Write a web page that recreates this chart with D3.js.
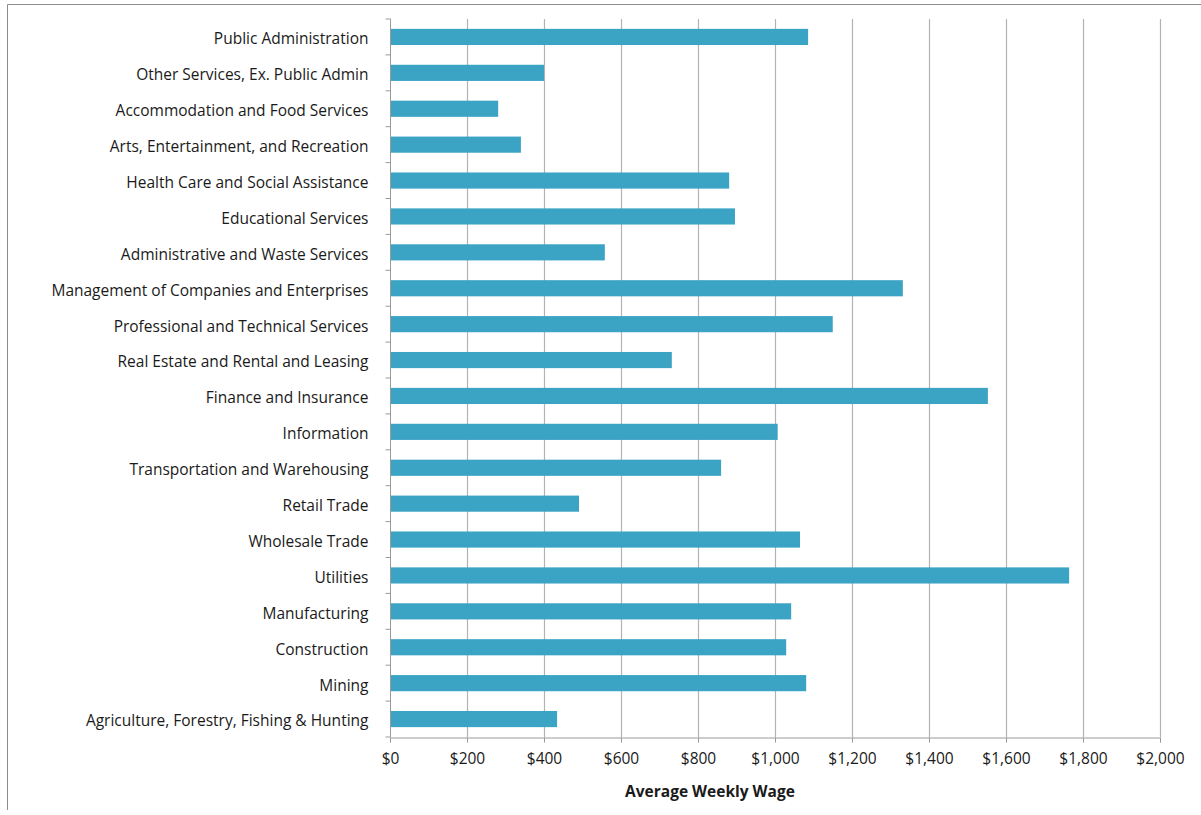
<!DOCTYPE html>
<html><head><meta charset="utf-8">
<script src="https://cdn.jsdelivr.net/npm/d3@7"></script>
<style>body{margin:0;background:#fff;} text{font-family:"Open Sans",Lato,sans-serif;}</style>
</head><body>
<svg id="chart" width="1201" height="815"></svg>
<script>
const categories = [
  "Public Administration",
  "Other Services, Ex. Public Admin",
  "Accommodation and Food Services",
  "Arts, Entertainment, and Recreation",
  "Health Care and Social Assistance",
  "Educational Services",
  "Administrative and Waste Services",
  "Management of Companies and Enterprises",
  "Professional and Technical Services",
  "Real Estate and Rental and Leasing",
  "Finance and Insurance",
  "Information",
  "Transportation and Warehousing",
  "Retail Trade",
  "Wholesale Trade",
  "Utilities",
  "Manufacturing",
  "Construction",
  "Mining",
  "Agriculture, Forestry, Fishing & Hunting"
];
const wages = [1086, 400, 281, 340, 881, 896, 558, 1332, 1150, 732, 1553, 1007, 860, 491, 1065, 1764, 1042, 1029, 1081, 434];
const xTicks = [0, 200, 400, 600, 800, 1000, 1200, 1400, 1600, 1800, 2000];
const xTitle = "Average Weekly Wage";

const svg = d3.select("#chart");
const W = 1201, H = 815;
const m = {left: 390, right: 41, top: 19, bottom: 78};
const FONT = "'Open Sans', Lato, sans-serif";
const FS = 15.5;

// frame (top and left edges visible)
svg.append("line").attr("x1", 7.5).attr("x2", 1201).attr("y1", 4.5).attr("y2", 4.5).attr("stroke", "#8c8c8c");
svg.append("line").attr("x1", 7.5).attr("x2", 7.5).attr("y1", 4.5).attr("y2", 810).attr("stroke", "#8c8c8c");

const x = d3.scaleLinear().domain([0, 2000]).range([m.left, W - m.right]);
const y = d3.scaleBand().domain(categories).range([m.top, H - m.bottom]).paddingInner(0.55).paddingOuter(0.275);

// gridlines
svg.append("g").selectAll("line").data(xTicks.slice(1)).join("line")
  .attr("x1", d => Math.round(x(d)) + 0.5).attr("x2", d => Math.round(x(d)) + 0.5)
  .attr("y1", m.top).attr("y2", H - m.bottom)
  .attr("stroke", "#b3b3b3").attr("stroke-width", 1.2);

// bars
svg.append("g").selectAll("rect").data(categories).join("rect")
  .attr("x", x(0)).attr("y", d => y(d))
  .attr("width", (d, i) => x(wages[i]) - x(0))
  .attr("height", y.bandwidth())
  .attr("fill", "#3ba4c4");

// x axis
const xAxis = d3.axisBottom(x).tickValues(xTicks).tickSize(5).tickPadding(10)
  .tickFormat(d => "$" + d3.format(",")(d));
const gx = svg.append("g").attr("transform", `translate(0,${H - m.bottom + 0.5})`).call(xAxis);
gx.select(".domain").attr("stroke", "#9a9a9a");
gx.selectAll(".tick line").attr("stroke", "#9a9a9a");
gx.selectAll("text").attr("font-size", FS).attr("fill", "#1a1a1a").attr("font-family", FONT);

// y axis
const band = y.step();
const gy = svg.append("g").attr("transform", `translate(${m.left + 0.5},0)`);
gy.append("line").attr("y1", m.top).attr("y2", H - m.bottom).attr("stroke", "#9a9a9a");
const bounds = d3.range(categories.length + 1).map(i => m.top + i * band);
gy.selectAll("line.tk").data(bounds).join("line").attr("class", "tk")
  .attr("x1", -5).attr("x2", 0).attr("y1", d => d).attr("y2", d => d).attr("stroke", "#9a9a9a");
gy.selectAll("text").data(categories).join("text")
  .attr("x", -22).attr("y", d => y(d) + y.bandwidth() / 2 + 2)
  .attr("dy", "0.35em").attr("text-anchor", "end")
  .attr("font-size", FS).attr("fill", "#1a1a1a").text(d => d);

svg.append("text").attr("x", 710).attr("y", 797).attr("text-anchor", "middle")
  .attr("font-size", FS).attr("font-weight", "bold").attr("fill", "#1a1a1a").text(xTitle);
</script>
</body></html>
